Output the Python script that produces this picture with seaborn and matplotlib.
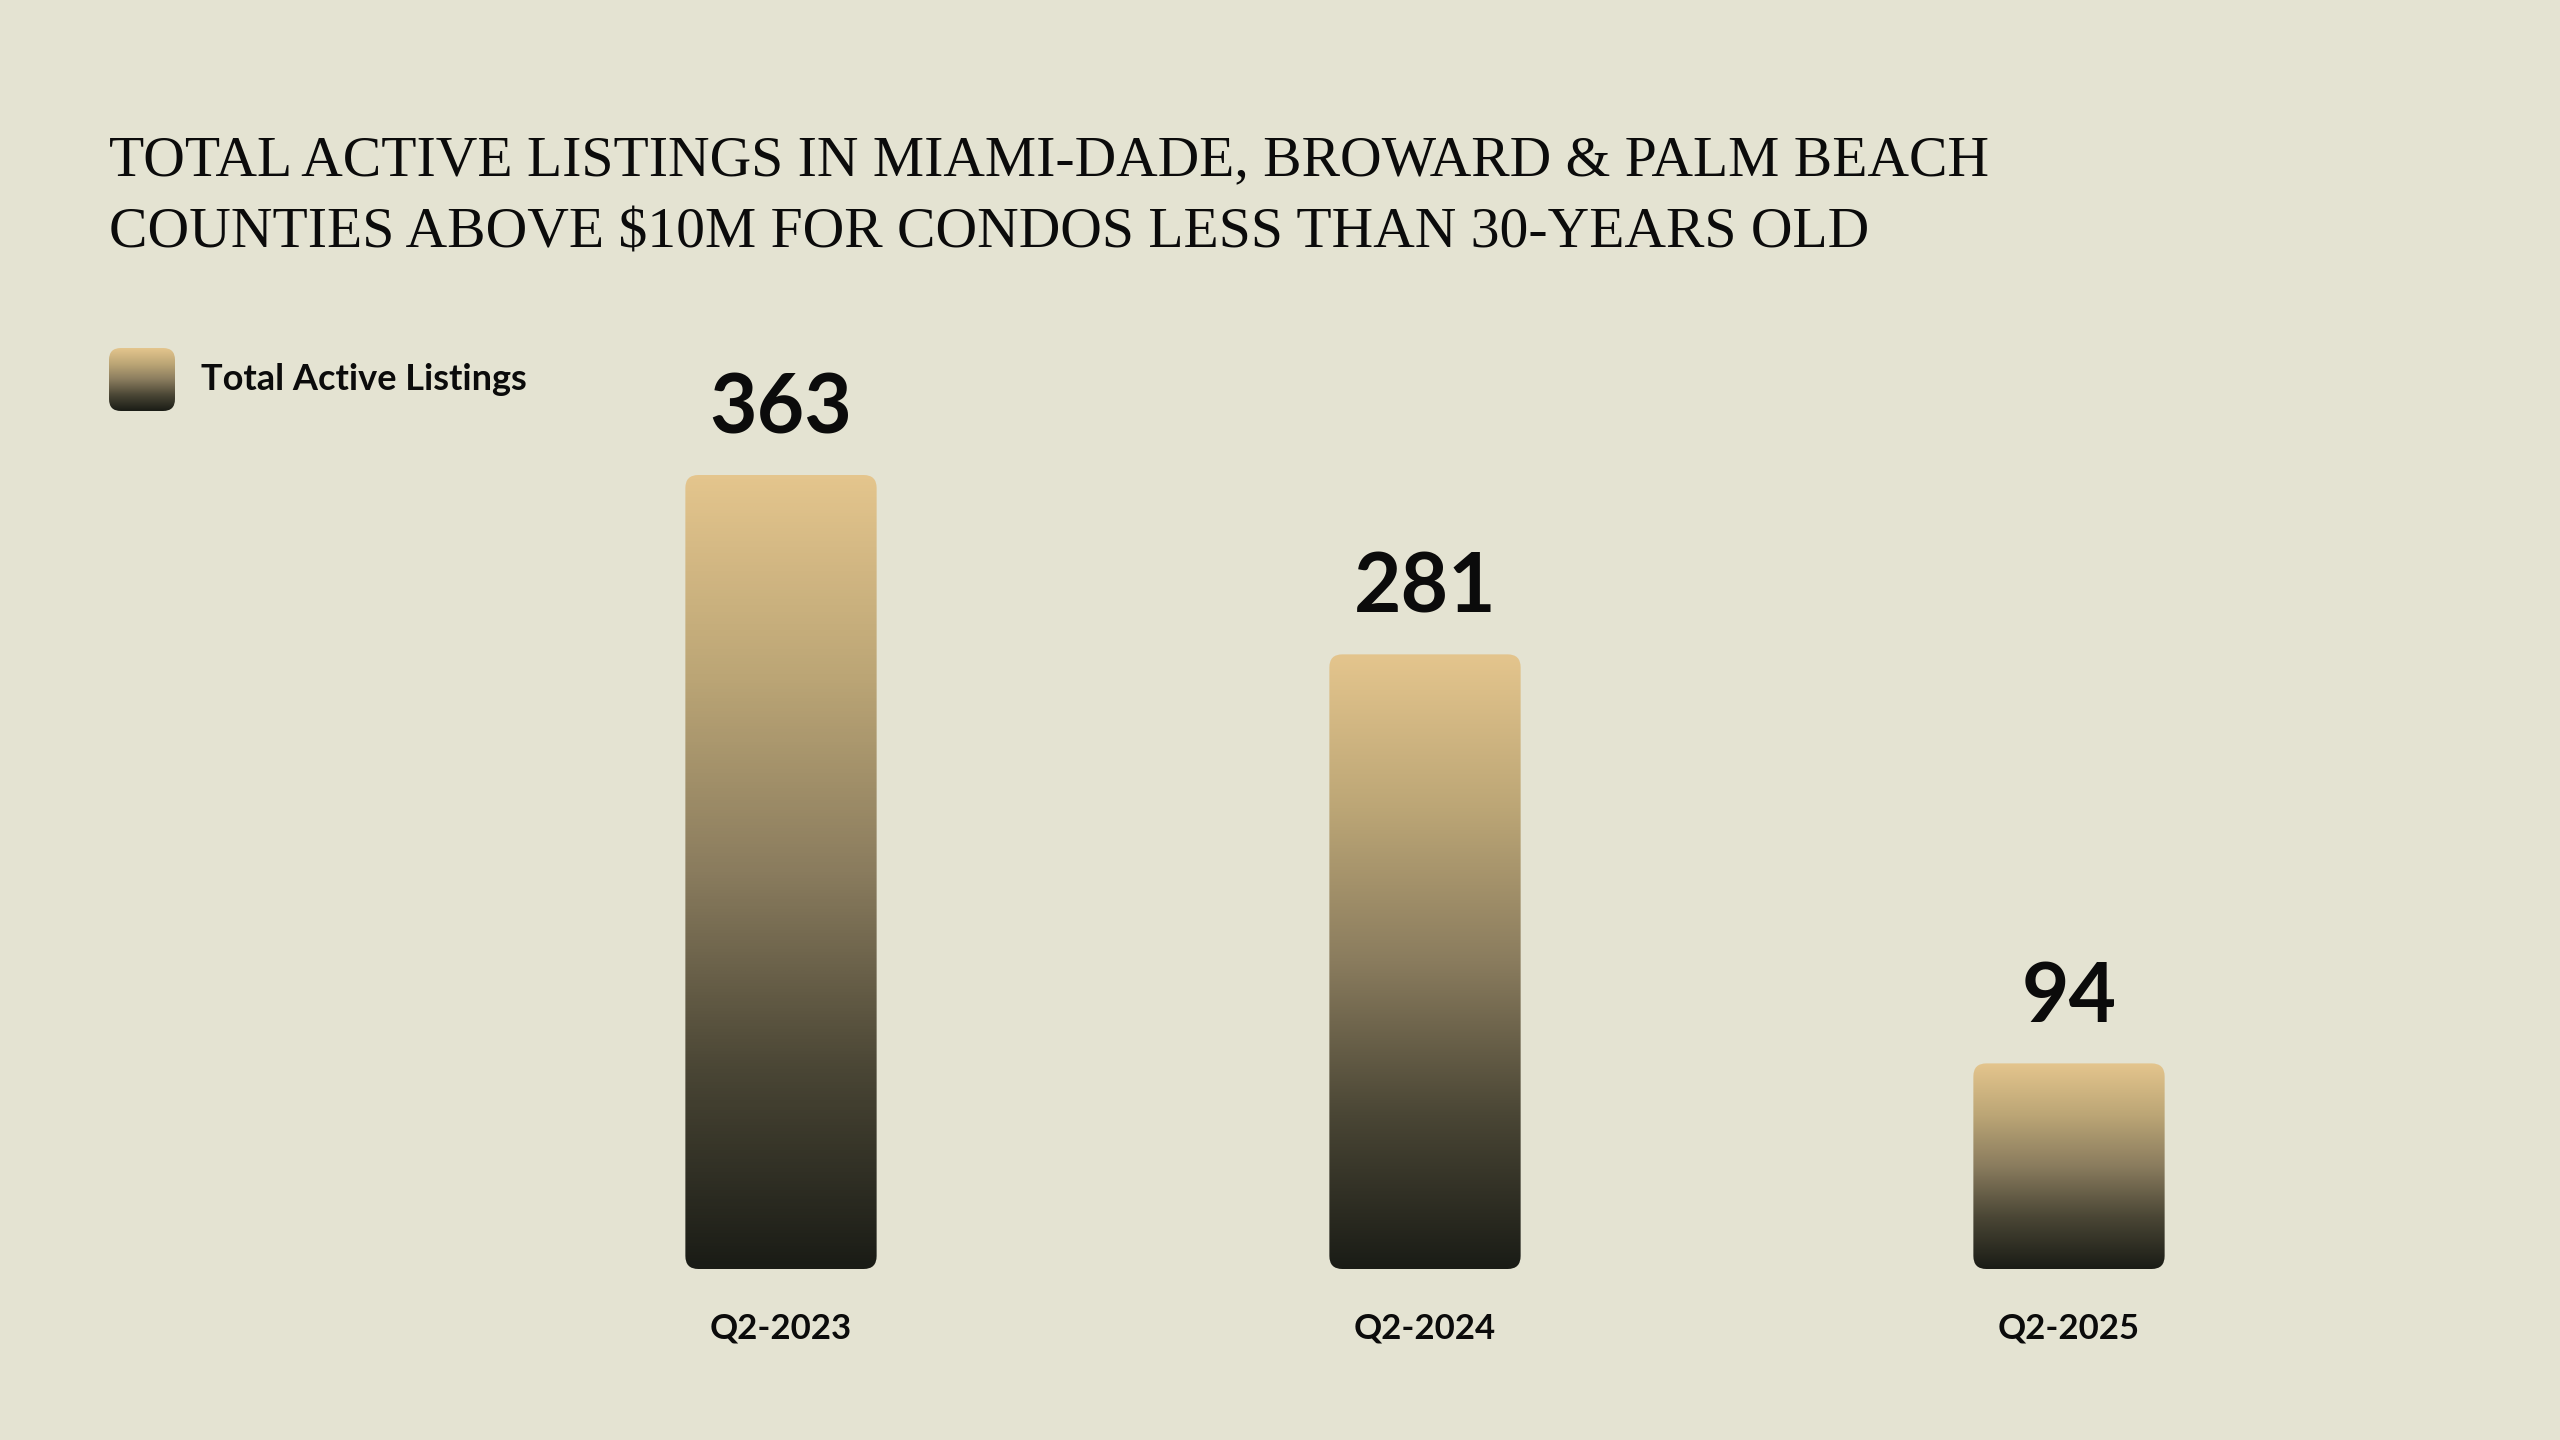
import numpy as np
import pandas as pd
import matplotlib
matplotlib.use("Agg")
import matplotlib.pyplot as plt
import seaborn as sns
from matplotlib.colors import LinearSegmentedColormap
from matplotlib.patches import FancyBboxPatch

# ---- data ----
quarters = ["Q2-2023", "Q2-2024", "Q2-2025"]
listings = [363, 281, 94]
series_name = "Total Active Listings"
title_lines = [
    "TOTAL ACTIVE LISTINGS IN MIAMI-DADE, BROWARD & PALM BEACH",
    "COUNTIES ABOVE $10M FOR CONDOS LESS THAN 30-YEARS OLD",
]

BG = "#E4E3D2"
grad = LinearSegmentedColormap.from_list(
    "bar_grad",
    [(0.0, "#1A1C16"), (0.25, "#4A4635"), (0.5, "#8A7C5E"),
     (0.75, "#BCA676"), (1.0, "#E4C58D")],
)
gradient = np.linspace(0, 1, 256).reshape(-1, 1)

sns.set_theme(style="white")
plt.rcParams["font.family"] = ["Lato", "DejaVu Sans"]

W, H = 2560, 1440
fig = plt.figure(figsize=(W / 100, H / 100), dpi=100, facecolor=BG)

# axes geometry (pixels)
ax_left_px, ax_right_px = 459, 2391
ax_bottom_px = 1269
px_per_unit = 794 / 363.0
ymax = 400
ax_top_px = ax_bottom_px - ymax * px_per_unit
ax = fig.add_axes([ax_left_px / W, (H - ax_bottom_px) / H,
                   (ax_right_px - ax_left_px) / W,
                   (ax_bottom_px - ax_top_px) / H])
ax.set_facecolor(BG)

df = pd.DataFrame({"quarter": quarters, "listings": listings})
sns.barplot(data=df, x="quarter", y="listings", ax=ax, width=0.297,
            color="#8A7C5E", saturation=1, errorbar=None)

ax.set_xlim(-0.5, 2.5)
ax.set_ylim(0, ymax)

# pixel-to-data conversion for rounded corners
x_unit_px = (ax_right_px - ax_left_px) / 3.0
y_unit_px = px_per_unit
radius_px = 13
r_x = radius_px / x_unit_px
aspect = (1 / y_unit_px) / (1 / x_unit_px)

for p in list(ax.patches):
    x0, y0 = p.get_x(), p.get_y()
    w, h = p.get_width(), p.get_height()
    p.set_visible(False)
    clip = FancyBboxPatch((x0, y0), w, h,
                          boxstyle=f"round,pad=0,rounding_size={r_x}",
                          mutation_aspect=aspect,
                          transform=ax.transData, facecolor="none",
                          edgecolor="none")
    ax.add_patch(clip)
    im = ax.imshow(gradient, extent=(x0, x0 + w, y0, y0 + h), origin="lower",
                   cmap=grad, aspect="auto", zorder=3, interpolation="bicubic")
    im.set_clip_path(clip)

ax.set_xlim(-0.5, 2.5)
ax.set_ylim(0, ymax)

ax.bar_label(ax.containers[0], labels=[str(v) for v in listings],
             padding=20, fontsize=59, fontweight="bold", color="#0B0B0B",
             family=["Lato", "DejaVu Sans"])

for s in ax.spines.values():
    s.set_visible(False)
ax.set_yticks([])
ax.set_xlabel("")
ax.set_ylabel("")
ax.tick_params(axis="x", length=0, pad=31)
for lbl in ax.get_xticklabels():
    lbl.set_fontsize(25)
    lbl.set_fontweight("bold")
    lbl.set_color("#0B0B0B")

# ---- title ----
fig.text(109 / W, 1 - 175 / H, title_lines[0], ha="left", va="baseline",
         fontsize=41.5, color="#0B0B0B", family=["Liberation Serif", "DejaVu Serif"])
fig.text(109 / W, 1 - 248 / H, title_lines[1], ha="left", va="baseline",
         fontsize=41.5, color="#0B0B0B", family=["Liberation Serif", "DejaVu Serif"])

# ---- legend ----
lax = fig.add_axes([109 / W, (H - 411) / H, 66 / W, 63 / H])
lax.set_axis_off()
lclip = FancyBboxPatch((0, 0), 1, 1, boxstyle="round,pad=0,rounding_size=0.18",
                       mutation_aspect=66 / 63, transform=lax.transAxes,
                       facecolor="none", edgecolor="none")
lax.add_patch(lclip)
lim = lax.imshow(gradient, extent=(0, 1, 0, 1), origin="lower", cmap=grad,
                 aspect="auto", interpolation="bicubic")
lim.set_clip_path(lclip)
lax.set_xlim(0, 1)
lax.set_ylim(0, 1)
fig.text(201 / W, 1 - 379 / H, series_name, ha="left", va="center",
         fontsize=26, fontweight="bold", color="#0B0B0B")

fig.savefig("out.png", dpi=100, facecolor=BG)
